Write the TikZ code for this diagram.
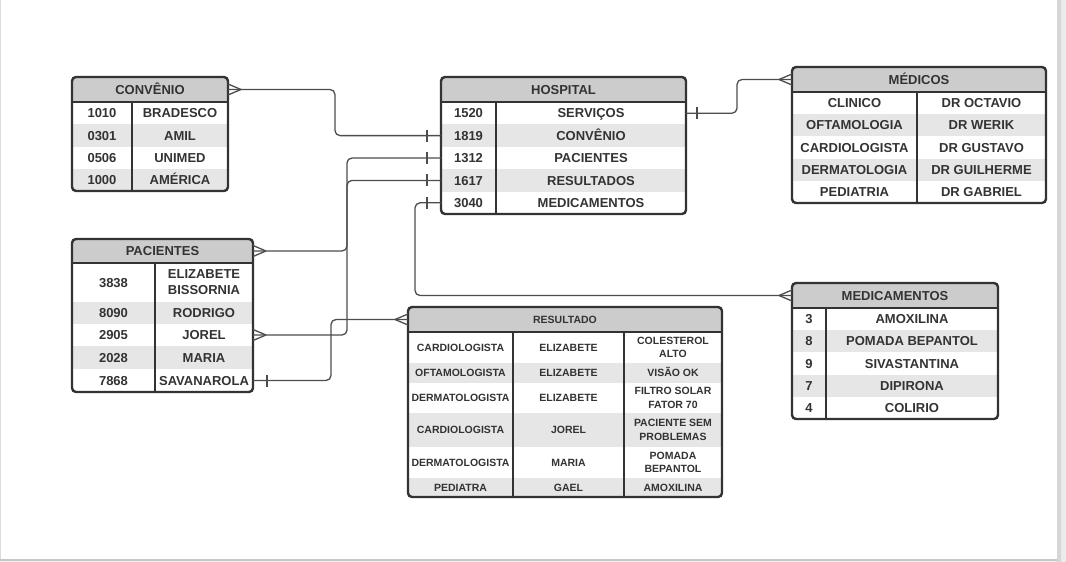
\documentclass[tikz,border=0pt]{standalone}
\usepackage{fontspec}
\setmainfont{Liberation Sans}
\definecolor{ink}{HTML}{333333}
\definecolor{hdr}{HTML}{CCCCCC}
\definecolor{alt}{HTML}{E6E6E6}
\definecolor{wirec}{HTML}{4D4D4D}
\tikzset{
  tbl/.style={draw=ink, line width=2.4pt, rounded corners=4pt, inner sep=0pt, outer sep=0pt},
  rule/.style={draw=ink, line width=2.2pt},
  cell/.style={text=ink, font=\fontsize{13}{16}\selectfont\bfseries, inner sep=0pt, text height=12pt, text depth=2.7pt},
  mcell/.style={text=ink, font=\fontsize{13}{16}\selectfont\bfseries, inner sep=0pt, align=center},
  scell/.style={text=ink, font=\fontsize{10.5}{13.3}\selectfont\bfseries, inner sep=0pt, text height=10pt, text depth=2.5pt},
  smcell/.style={text=ink, font=\fontsize{10.5}{13.3}\selectfont\bfseries, inner sep=0pt, align=center},
  wire/.style={draw=wirec, line width=1.3pt, rounded corners=5pt},
  foot/.style={draw=wirec, line width=1.3pt},
}
\begin{document}
\begin{tikzpicture}[x=1pt,y=-1pt]
\useasboundingbox (0,0) rectangle (1066,562);
% page
\fill[white] (0,0) rectangle (1066,562);
\fill[black!16] (1057,0) rectangle (1061,562);
\fill[black!8] (1061,0) rectangle (1066,562);
\fill[black!22] (0,558.5) rectangle (1057,560.5);
\fill[black!7] (0,560.5) rectangle (1057,562);
\fill[black!14] (0,0) rectangle (1,558.5);

% ===== CONVENIO =====
\begin{scope}
\clip[rounded corners=4pt] (72,77) rectangle (228,191);
\fill[white] (72,77) rectangle (228,191);
\fill[hdr] (72,77) rectangle (228,102);
\fill[alt] (72,124.25) rectangle (228,146.5);
\fill[alt] (72,168.75) rectangle (228,191);
\end{scope}
\draw[rule] (72,102) -- (228,102);
\draw[rule] (132,102) -- (132,191);
\node[tbl, minimum width=156pt, minimum height=114pt] (conv) at (150,134) {};
\node[cell] (convH) at (150,89.5) {CONVÊNIO};
\node[cell] (c1a) at (102,113.1) {1010};
\node[cell] (c1b) at (180,113.1) {BRADESCO};
\node[cell] (c2a) at (102,135.4) {0301};
\node[cell] (c2b) at (180,135.4) {AMIL};
\node[cell] (c3a) at (102,157.6) {0506};
\node[cell] (c3b) at (180,157.6) {UNIMED};
\node[cell] (c4a) at (102,179.9) {1000};
\node[cell] (c4b) at (180,179.9) {AMÉRICA};

% ===== HOSPITAL =====
\begin{scope}
\clip[rounded corners=4pt] (441,77) rectangle (686,214);
\fill[white] (441,77) rectangle (686,214);
\fill[hdr] (441,77) rectangle (686,102);
\fill[alt] (441,124.4) rectangle (686,146.8);
\fill[alt] (441,169.2) rectangle (686,191.6);
\end{scope}
\draw[rule] (441,102) -- (686,102);
\draw[rule] (496,102) -- (496,214);
\node[tbl, minimum width=245pt, minimum height=137pt] (hosp) at (563.5,145.5) {};
\node[cell] (hospH) at (563.5,89.5) {HOSPITAL};
\node[cell] (h1a) at (468.5,113.2) {1520};
\node[cell] (h1b) at (591,113.2) {SERVIÇOS};
\node[cell] (h2a) at (468.5,135.6) {1819};
\node[cell] (h2b) at (591,135.6) {CONVÊNIO};
\node[cell] (h3a) at (468.5,158) {1312};
\node[cell] (h3b) at (591,158) {PACIENTES};
\node[cell] (h4a) at (468.5,180.4) {1617};
\node[cell] (h4b) at (591,180.4) {RESULTADOS};
\node[cell] (h5a) at (468.5,202.8) {3040};
\node[cell] (h5b) at (591,202.8) {MEDICAMENTOS};

% ===== MEDICOS =====
\begin{scope}
\clip[rounded corners=4pt] (792,67) rectangle (1046,203);
\fill[white] (792,67) rectangle (1046,203);
\fill[hdr] (792,67) rectangle (1046,92);
\fill[alt] (792,114.2) rectangle (1046,136.4);
\fill[alt] (792,158.6) rectangle (1046,180.8);
\end{scope}
\draw[rule] (792,92) -- (1046,92);
\draw[rule] (917,92) -- (917,203);
\node[tbl, minimum width=254pt, minimum height=136pt] (med) at (919,135) {};
\node[cell] (medH) at (919,79.5) {MÉDICOS};
\node[cell] (m1a) at (854.5,103.1) {CLINICO};
\node[cell] (m1b) at (981.5,103.1) {DR OCTAVIO};
\node[cell] (m2a) at (854.5,125.3) {OFTAMOLOGIA};
\node[cell] (m2b) at (981.5,125.3) {DR WERIK};
\node[cell] (m3a) at (854.5,147.5) {CARDIOLOGISTA};
\node[cell] (m3b) at (981.5,147.5) {DR GUSTAVO};
\node[cell] (m4a) at (854.5,169.7) {DERMATOLOGIA};
\node[cell] (m4b) at (981.5,169.7) {DR GUILHERME};
\node[cell] (m5a) at (854.5,191.9) {PEDIATRIA};
\node[cell] (m5b) at (981.5,191.9) {DR GABRIEL};

% ===== PACIENTES =====
\begin{scope}
\clip[rounded corners=4pt] (72,239) rectangle (253,392);
\fill[white] (72,239) rectangle (253,392);
\fill[hdr] (72,239) rectangle (253,263);
\fill[alt] (72,302) rectangle (253,324);
\fill[alt] (72,346) rectangle (253,369);
\end{scope}
\draw[rule] (72,263) -- (253,263);
\draw[rule] (155,263) -- (155,392);
\node[tbl, minimum width=181pt, minimum height=153pt] (pac) at (162.5,315.5) {};
\node[cell] (pacH) at (162.5,251) {PACIENTES};
\node[cell] (p1a) at (113.5,282.5) {3838};
\node[mcell] (p1b) at (204,282.5) {ELIZABETE\\BISSORNIA};
\node[cell] (p2a) at (113.5,313) {8090};
\node[cell] (p2b) at (204,313) {RODRIGO};
\node[cell] (p3a) at (113.5,335) {2905};
\node[cell] (p3b) at (204,335) {JOREL};
\node[cell] (p4a) at (113.5,357.5) {2028};
\node[cell] (p4b) at (204,357.5) {MARIA};
\node[cell] (p5a) at (113.5,380.5) {7868};
\node[cell] (p5b) at (204,380.5) {SAVANAROLA};

% ===== RESULTADO =====
\begin{scope}
\clip[rounded corners=4pt] (408,307) rectangle (722,497);
\fill[white] (408,307) rectangle (722,497);
\fill[hdr] (408,307) rectangle (722,332);
\fill[alt] (408,363) rectangle (722,383);
\fill[alt] (408,413) rectangle (722,447);
\fill[alt] (408,478) rectangle (722,497);
\end{scope}
\draw[rule] (408,332) -- (722,332);
\draw[rule] (513,332) -- (513,497);
\draw[rule] (624,332) -- (624,497);
\node[tbl, minimum width=314pt, minimum height=190pt] (res) at (565,402) {};
\node[scell] (resH) at (565,319.5) {RESULTADO};
\node[scell] (r1a) at (460.5,347.5) {CARDIOLOGISTA};
\node[scell] (r1b) at (568.5,347.5) {ELIZABETE};
\node[smcell] (r1c) at (673,347.5) {COLESTEROL\\ALTO};
\node[scell] (r2a) at (460.5,373) {OFTAMOLOGISTA};
\node[scell] (r2b) at (568.5,373) {ELIZABETE};
\node[scell] (r2c) at (673,373) {VISÃO OK};
\node[scell] (r3a) at (460.5,398) {DERMATOLOGISTA};
\node[scell] (r3b) at (568.5,398) {ELIZABETE};
\node[smcell] (r3c) at (673,398) {FILTRO SOLAR\\FATOR 70};
\node[scell] (r4a) at (460.5,430) {CARDIOLOGISTA};
\node[scell] (r4b) at (568.5,430) {JOREL};
\node[smcell] (r4c) at (673,430) {PACIENTE SEM\\PROBLEMAS};
\node[scell] (r5a) at (460.5,462.5) {DERMATOLOGISTA};
\node[scell] (r5b) at (568.5,462.5) {MARIA};
\node[smcell] (r5c) at (673,462.5) {POMADA\\BEPANTOL};
\node[scell] (r6a) at (460.5,487.5) {PEDIATRA};
\node[scell] (r6b) at (568.5,487.5) {GAEL};
\node[scell] (r6c) at (673,487.5) {AMOXILINA};

% ===== MEDICAMENTOS =====
\begin{scope}
\clip[rounded corners=4pt] (792,283) rectangle (998,419);
\fill[white] (792,283) rectangle (998,419);
\fill[hdr] (792,283) rectangle (998,308);
\fill[alt] (792,330.2) rectangle (998,352.4);
\fill[alt] (792,374.6) rectangle (998,396.8);
\end{scope}
\draw[rule] (792,308) -- (998,308);
\draw[rule] (826,308) -- (826,419);
\node[tbl, minimum width=206pt, minimum height=136pt] (md) at (895,351) {};
\node[cell] (mdH) at (895,295.5) {MEDICAMENTOS};
\node[cell] (d1a) at (809,319.1) {3};
\node[cell] (d1b) at (912,319.1) {AMOXILINA};
\node[cell] (d2a) at (809,341.3) {8};
\node[cell] (d2b) at (912,341.3) {POMADA BEPANTOL};
\node[cell] (d3a) at (809,363.5) {9};
\node[cell] (d3b) at (912,363.5) {SIVASTANTINA};
\node[cell] (d4a) at (809,385.7) {7};
\node[cell] (d4b) at (912,385.7) {DIPIRONA};
\node[cell] (d5a) at (809,407.9) {4};
\node[cell] (d5b) at (912,407.9) {COLIRIO};

% ===== CONNECTORS =====
% Convenio -> Hospital 1819
\draw[wire] (convH -| conv.east) -- ++(107,0) |- (h2a -| hosp.west);
\draw[foot] (convH -| conv.east) ++(13,0) -- ++(-13,-5.5) ++(13,5.5) -- ++(-13,5.5);
\draw[foot] (h2a -| hosp.west) ++(-14,-6) -- ++(0,12);
% Hospital 1520 -> Medicos
\draw[wire] (h1a -| hosp.east) -- ++(51,0) |- (medH -| med.west);
\draw[foot] (h1a -| hosp.east) ++(11,-6) -- ++(0,12);
\draw[foot] (medH -| med.west) ++(-13,0) -- ++(13,-5.5) ++(-13,5.5) -- ++(13,5.5);
% Hospital 1312 -> Pacientes header
\draw[wire] (h3a -| hosp.west) -- ++(-94,0) |- (pacH -| pac.east);
\draw[foot] (h3a -| hosp.west) ++(-14,-6) -- ++(0,12);
\draw[foot] (pacH -| pac.east) ++(13,0) -- ++(-13,-5.5) ++(13,5.5) -- ++(-13,5.5);
% Hospital 1617 -> Pacientes JOREL
\draw[wire] (h4a -| hosp.west) -- ++(-94,0) |- (p3b -| pac.east);
\draw[foot] (h4a -| hosp.west) ++(-14,-6) -- ++(0,12);
\draw[foot] (p3b -| pac.east) ++(13,0) -- ++(-13,-5.5) ++(13,5.5) -- ++(-13,5.5);
% Pacientes SAVANAROLA -> Resultado
\draw[wire] (p5b -| pac.east) -- ++(78,0) |- (resH -| res.west);
\draw[foot] (p5b -| pac.east) ++(14,-6) -- ++(0,12);
\draw[foot] (resH -| res.west) ++(-13,0) -- ++(13,-5.5) ++(-13,5.5) -- ++(13,5.5);
% Hospital 3040 -> Medicamentos
\draw[wire] (h5a -| hosp.west) -- ++(-26,0) |- (mdH -| md.west);
\draw[foot] (h5a -| hosp.west) ++(-14,-6) -- ++(0,12);
\draw[foot] (mdH -| md.west) ++(-13,0) -- ++(13,-5.5) ++(-13,5.5) -- ++(13,5.5);
\end{tikzpicture}
\end{document}
